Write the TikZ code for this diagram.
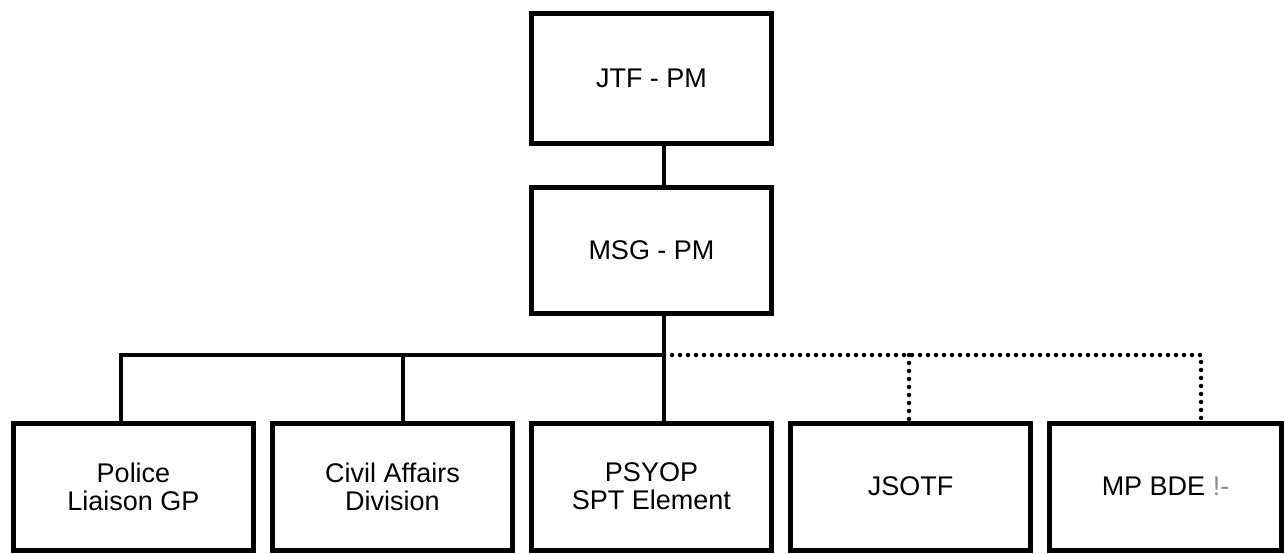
\documentclass[tikz,border=0pt]{standalone}
\usepackage{fontspec}
\setmainfont{Liberation Sans}
\usepackage{xcolor}
\usepackage{tikz}
\usetikzlibrary{positioning}

\tikzset{
	unit/.style={draw, line width=5pt, inner sep=0pt, outer sep=0pt, minimum width=240pt, minimum height=127pt, align=center, font=\fontsize{27}{28}\selectfont},
	link/.style={line width=4pt},
	dotlink/.style={line width=4.5pt, line cap=round, dash pattern=on 0pt off 8pt},
}

\begin{document}
\begin{tikzpicture}[x=1pt,y=1pt]
	\useasboundingbox (0,0) rectangle (1286,-554);
	\node[unit, minimum height=130pt] (jtf) at (651.5,-78) {JTF - PM};
	\node[unit, minimum height=126pt, below=44pt of jtf] (msg) {MSG - PM};
	\node[unit] (police) at (133.5,-486.5) {Police\\Liaison GP};
	\node[unit, right=19pt of police] (civil) {Civil Affairs\\Division};
	\node[unit, right=19pt of civil] (psyop) {PSYOP\\SPT Element};
	\node[unit, right=19pt of psyop] (jsotf) {JSOTF};
	\node[unit, minimum width=232pt, right=19pt of jsotf] (mp) {MP BDE {\color{black!45}!-}};
	
	\coordinate (trunk) at (664,-355);
	\coordinate (busW) at (121,-355);
	\coordinate (busC) at (403,-355);
	\coordinate (busJ) at (909,-355);
	\coordinate (busE) at (1201,-355);
	
	\draw[link] (jtf.south -| trunk) -- (msg.north -| trunk);
	\draw[link] (msg.south -| trunk) -- (trunk |- psyop.north);
	\draw[link] (busW |- police.north) -- (busW) -- (trunk);
	\draw[link] (busC) -- (busC |- civil.north);
	\draw[dotlink] (trunk) -- (busE) -- (busE |- mp.north);
	\draw[dotlink] (busJ) -- (busJ |- jsotf.north);
\end{tikzpicture}
\end{document}
